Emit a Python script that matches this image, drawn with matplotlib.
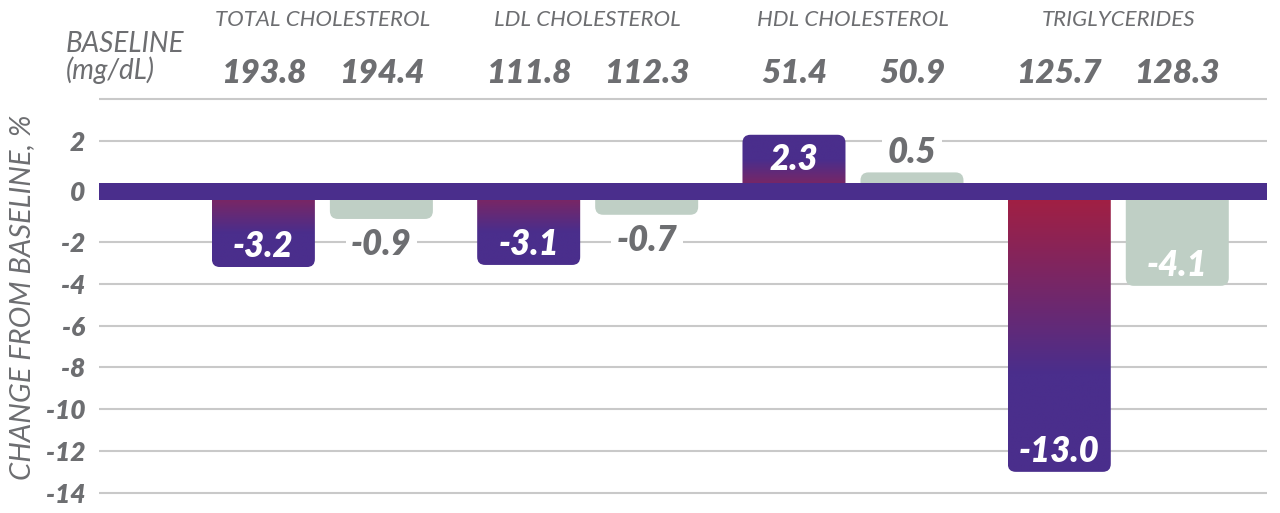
import numpy as np
import matplotlib
matplotlib.use("Agg")
import matplotlib.pyplot as plt
from matplotlib.patches import FancyBboxPatch
from matplotlib.colors import to_rgb
from matplotlib.transforms import blended_transform_factory

# data
categories = ["TOTAL CHOLESTEROL", "LDL CHOLESTEROL", "HDL CHOLESTEROL", "TRIGLYCERIDES"]
treat_change = [-3.2, -3.1, 2.3, -13.0]
comp_change = [-0.9, -0.7, 0.5, -4.1]
treat_baseline = [193.8, 111.8, 51.4, 125.7]
comp_baseline = [194.4, 112.3, 50.9, 128.3]
ytick_values = [2, 0, -2, -4, -6, -8, -10, -12, -14]
grid_values = [4, 2, -2, -4, -6, -8, -10, -12, -14]

TEXT = "#6D6E71"
PURPLE = "#4A2E8C"
RED = "#A51F40"
GRAY_BAR = "#BFCFC5"
GRID = "#C9C9C9"
HEAVY = "heavy"

plt.rcParams["font.family"] = ["Lato", "DejaVu Sans"]

W, H = 1280, 513
fig = plt.figure(figsize=(W / 100, H / 100), dpi=100)

# layout in pixels
ppu_y = 20.9           # pixels per % unit
ppu_x = 265.3          # pixels per group
g = 0.414              # half thickness of the zero band, in % units
zero_px = 191.5
ylo, yhi = -15.2, 5.0
xlo, xhi = -0.842, 3.559
left_px = 99
right_px = left_px + (xhi - xlo) * ppu_x
top_px = zero_px - yhi * ppu_y
bot_px = zero_px - ylo * ppu_y
ax = fig.add_axes([left_px / W, 1 - bot_px / H, (right_px - left_px) / W, (bot_px - top_px) / H])
ax.set_xlim(xlo, xhi)
ax.set_ylim(ylo, yhi)
for s in ax.spines.values():
    s.set_visible(False)
ax.set_xticks([])


def shift(v):
    # positive values sit above the band, negatives below it
    return v + g if v >= 0 else v - g


# gridlines
for v in grid_values:
    ax.axhline(shift(v), color=GRID, lw=1.5, zorder=1)

# zero band
ax.axhspan(-g, g, color=PURPLE, zorder=4, lw=0)

bar_w = 103 / ppu_x
off = 59 / ppu_x
radius = 8 / ppu_x
aspect = ppu_x / ppu_y

c_red = np.array(to_rgb(RED))
c_purple = np.array(to_rgb(PURPLE))


def draw_bar(xc, v, gradient):
    end = shift(v)
    y0, y1 = min(0, end), max(0, end)
    patch = FancyBboxPatch((xc - bar_w / 2, y0), bar_w, y1 - y0,
                           boxstyle=f"round,pad=0,rounding_size={radius}",
                           mutation_aspect=aspect,
                           facecolor=GRAY_BAR if not gradient else "none",
                           edgecolor="none", zorder=3)
    ax.add_patch(patch)
    if gradient:
        n = 200
        t = np.linspace(0, 1, n)          # 0 at zero end, 1 at far end
        # short bars start from a less saturated red
        k0, span = (0.0, 0.65) if abs(v) > 6 else (0.35, 0.55)
        k = np.clip(k0 + t * (1 - k0) / span, 0, 1)[:, None]
        cols = c_red * (1 - k) + c_purple * k
        if v < 0:
            cols = cols[::-1]              # image rows go bottom -> top
        img = cols[:, None, :]
        im = ax.imshow(img, extent=[xc - bar_w / 2, xc + bar_w / 2, y0, y1],
                       origin="lower", aspect="auto", zorder=3, interpolation="bilinear")
        im.set_clip_path(patch)
    return end


def bar_label(xc, v, end):
    inside = abs(v) >= 2
    if v < 0:
        yb = end + 10 / ppu_y if inside else end - 36 / ppu_y
    else:
        yb = end - 35 / ppu_y if inside else end + 9 / ppu_y
    if inside:
        ax.text(xc, yb, f"{v:.1f}", ha="center", va="baseline", color="white",
                fontsize=25, fontweight=HEAVY, fontstyle="italic", zorder=5)
    else:
        # white box breaks the gridline, kept under the bars
        ax.text(xc, yb, f"{v:.1f}", ha="center", va="baseline", color=TEXT,
                fontsize=25, fontweight=HEAVY, fontstyle="italic", zorder=2,
                bbox=dict(facecolor="white", edgecolor="none", pad=4))


xs = np.arange(len(categories))
for i, x in enumerate(xs):
    e = draw_bar(x - off, treat_change[i], True)
    bar_label(x - off, treat_change[i], e)
    e = draw_bar(x + off, comp_change[i], False)
    bar_label(x + off, comp_change[i], e)

ax.set_xlim(xlo, xhi)
ax.set_ylim(ylo, yhi)

# y ticks
ax.set_yticks([shift(v) if v != 0 else 0 for v in ytick_values])
ax.set_yticklabels([str(v) for v in ytick_values])
ax.tick_params(axis="y", length=0, pad=10, labelcolor=TEXT)
for lab in ax.get_yticklabels():
    lab.set_fontsize(19)
    lab.set_fontweight(HEAVY)
    lab.set_fontstyle("italic")

fig.text(22 / W, 1 - 297 / H, "CHANGE FROM BASELINE, %", rotation=90,
         ha="center", va="center", color=TEXT, fontsize=21, fontstyle="italic")

# header rows
tr = blended_transform_factory(ax.transData, fig.transFigure)
for i, x in enumerate(xs):
    ax.text(x, 1 - 26 / H, categories[i], transform=tr, ha="center", va="baseline",
            color=TEXT, fontsize=16, fontstyle="italic")
    ax.text(x - off, 1 - 83 / H, f"{treat_baseline[i]:.1f}", transform=tr, ha="center",
            va="baseline", color=TEXT, fontsize=24, fontweight=HEAVY, fontstyle="italic")
    ax.text(x + off, 1 - 83 / H, f"{comp_baseline[i]:.1f}", transform=tr, ha="center",
            va="baseline", color=TEXT, fontsize=24, fontweight=HEAVY, fontstyle="italic")

fig.text(66 / W, 1 - 52 / H, "BASELINE", ha="left", va="baseline", color=TEXT,
         fontsize=20, fontstyle="italic")
fig.text(66 / W, 1 - 79 / H, "(mg/dL)", ha="left", va="baseline", color=TEXT,
         fontsize=20, fontstyle="italic")

fig.savefig("out.png", dpi=100)
